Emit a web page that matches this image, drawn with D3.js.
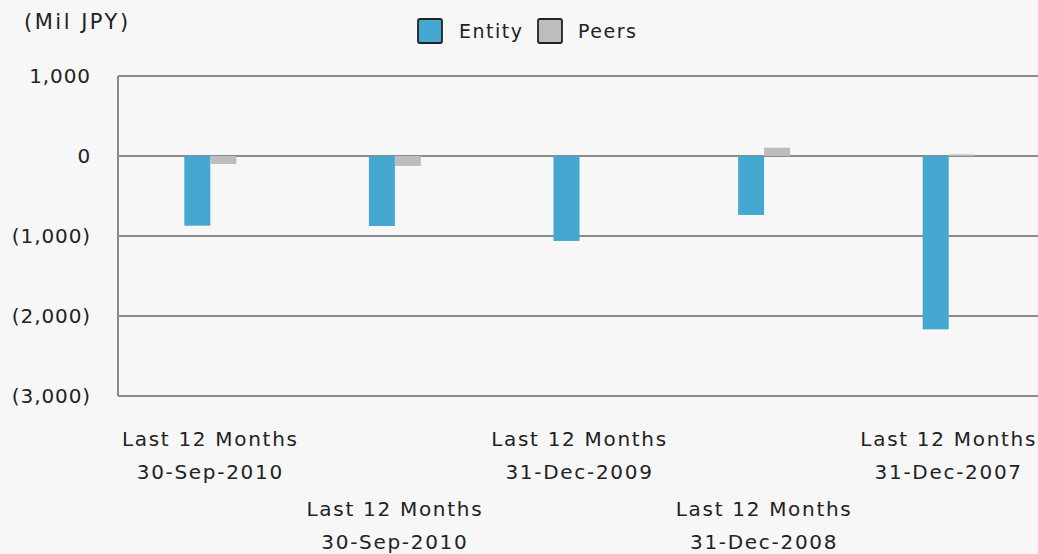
<!DOCTYPE html>
<html><head><meta charset="utf-8">
<script src="https://cdn.jsdelivr.net/npm/d3@7"></script>
<style>
html,body{margin:0;padding:0;background:#f7f7f7;}
text{font-family:"DejaVu Sans",sans-serif;fill:#222;}
</style></head>
<body><svg id="c" width="1038" height="554"></svg>
<script>
const categories = ["Last 12 Months|30-Sep-2010","Last 12 Months|30-Sep-2010","Last 12 Months|31-Dec-2009","Last 12 Months|31-Dec-2008","Last 12 Months|31-Dec-2007"];
const seriesNames = ["Entity","Peers"];
const entityValues = [-871, -875, -1062, -737, -2167];
const peersValues = [-100, -125, 0, 104, 20];
const yTicks = [1000, 0, -1000, -2000, -3000];
const unitLabel = "(Mil JPY)";
const colors = {Entity:"#45a8d1", Peers:"#bdbdbd"};

(function(){
const svg = d3.select("#c");
const pLeft = 118, pRight = 1041, pTop = 76, pBottom = 396;
const y = d3.scaleLinear().domain([-3000, 1000]).range([pBottom, pTop]);
const idx = categories.map((d,i)=>i);
const x0 = d3.scaleBand().domain(idx).range([pLeft, pRight]).paddingInner(0).paddingOuter(0);
const x1 = d3.scaleBand().domain(seriesNames).range([0, x0.bandwidth()]).paddingInner(0).paddingOuter(2.55);

const fmt = v => v < 0 ? "(" + d3.format(",")(-v) + ")" : d3.format(",")(v);

svg.append("g").selectAll("line").data(yTicks).join("line")
  .attr("x1", pLeft).attr("x2", 1038)
  .attr("y1", d=>y(d)).attr("y2", d=>y(d))
  .attr("stroke", "#8a8a8a").attr("stroke-width", 2);
svg.append("line").attr("x1", pLeft).attr("x2", pLeft).attr("y1", pTop).attr("y2", pBottom)
  .attr("stroke", "#8a8a8a").attr("stroke-width", 2);

svg.append("g").selectAll("text").data(yTicks).join("text")
  .attr("x", 91).attr("y", d=>y(d)).attr("dy", "0.36em")
  .attr("text-anchor", "end").style("font-size", "20px").style("letter-spacing","0.9px")
  .text(fmt);

const data = idx.map(i => ({i, vals:[{k:"Entity", v:entityValues[i]},{k:"Peers", v:peersValues[i]}]}));
const g = svg.append("g");
data.forEach(d => {
  g.selectAll(null).data(d.vals).join("rect")
    .attr("x", e => x0(d.i) + x1(e.k))
    .attr("width", x1.bandwidth())
    .attr("y", e => y(Math.max(0, e.v)))
    .attr("height", e => Math.abs(y(e.v) - y(0)))
    .attr("fill", e => colors[e.k]);
});

const lab = svg.append("g");
idx.forEach(i => {
  const parts = categories[i].split("|");
  const cx = x0(i) + x0.bandwidth()/2;
  const base = (i % 2 === 0) ? 446 : 516;
  parts.forEach((p, j) => {
    lab.append("text").attr("x", cx).attr("y", base + j*32.5)
      .attr("text-anchor", "middle").style("font-size", "20px").style("letter-spacing","1.7px")
      .text(p);
  });
});

svg.append("text").attr("x", 24).attr("y", 29).style("font-size", "21px").style("letter-spacing","2.5px").text(unitLabel);

const legX = [418, 538], legTextX = [459, 578];
seriesNames.forEach((s, i) => {
  svg.append("rect").attr("x", legX[i]).attr("y", 19).attr("width", 24).attr("height", 24)
    .attr("rx", 2).attr("fill", colors[s]).attr("stroke", "#222").attr("stroke-width", 1.8);
  svg.append("text").attr("x", legTextX[i]).attr("y", 38).style("font-size", "19px").style("letter-spacing","1.5px").text(s);
});
})();
</script></body></html>
